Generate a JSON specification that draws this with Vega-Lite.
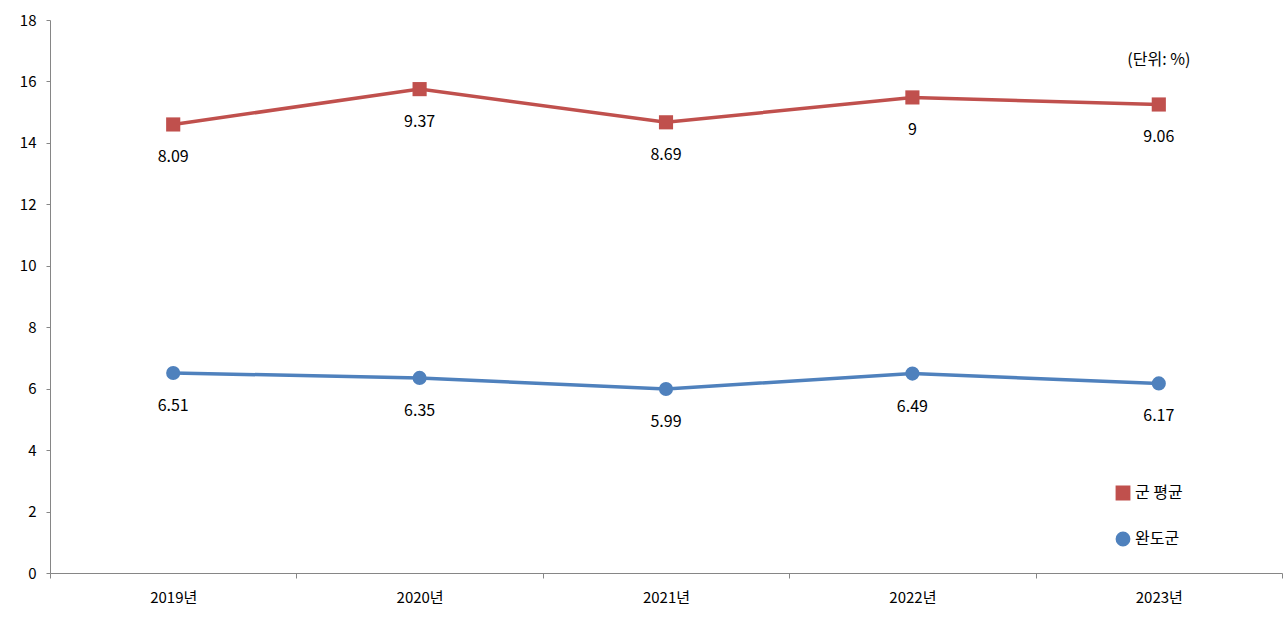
{
  "$schema": "https://vega.github.io/schema/vega-lite/v6.json",
  "width": 1232,
  "height": 553,
  "autosize": {"type": "none"},
  "padding": {"left": 50, "top": 20, "right": 3, "bottom": 45},
  "config": {
    "font": "Noto Sans CJK KR",
    "view": {"stroke": null},
    "axis": {"grid": false, "domainColor": "#868686", "tickColor": "#868686", "labelColor": "#000", "labelFontSize": 15, "title": null}
  },
  "data": {"values": [
    {"year": "2019년", "series": "군 평균", "v": 14.6, "label": "8.09"},
    {"year": "2020년", "series": "군 평균", "v": 15.75, "label": "9.37"},
    {"year": "2021년", "series": "군 평균", "v": 14.67, "label": "8.69"},
    {"year": "2022년", "series": "군 평균", "v": 15.48, "label": "9"},
    {"year": "2023년", "series": "군 평균", "v": 15.25, "label": "9.06"},
    {"year": "2019년", "series": "완도군", "v": 6.51, "label": "6.51"},
    {"year": "2020년", "series": "완도군", "v": 6.35, "label": "6.35"},
    {"year": "2021년", "series": "완도군", "v": 5.99, "label": "5.99"},
    {"year": "2022년", "series": "완도군", "v": 6.49, "label": "6.49"},
    {"year": "2023년", "series": "완도군", "v": 6.17, "label": "6.17"}
  ]},
  "encoding": {
    "x": {"field": "year", "type": "ordinal", "scale": {"paddingInner": 0, "paddingOuter": 0},
      "axis": {"tickBand": "extent", "labelAngle": 0, "labelPadding": 12, "ticks": true, "tickSize": 5}},
    "y": {"field": "v", "type": "quantitative", "scale": {"domain": [0, 18]},
      "axis": {"values": [0, 2, 4, 6, 8, 10, 12, 14, 16, 18], "tickSize": 4, "labelPadding": 10}}
  },
  "layer": [
    {
      "mark": {"type": "line", "strokeWidth": 3.5},
      "encoding": {
        "color": {"field": "series", "type": "nominal", "scale": {"domain": ["군 평균", "완도군"], "range": ["#C0504D", "#4F81BD"]},
          "legend": {"title": null, "orient": "none", "legendX": 1065, "legendY": 465, "labelFontSize": 16, "symbolSize": 140, "symbolStrokeWidth": 3, "rowPadding": 22, "labelColor": "#000", "symbolOpacity": 1}},
        "shape": {"field": "series", "type": "nominal", "scale": {"domain": ["군 평균", "완도군"], "range": ["square", "circle"]}, "legend": null}
      }
    },
    {
      "mark": {"type": "point", "filled": true, "size": 200, "opacity": 1},
      "encoding": {
        "color": {"field": "series", "type": "nominal"},
        "shape": {"field": "series", "type": "nominal"}
      }
    },
    {
      "mark": {"type": "text", "dy": 33, "fontSize": 16, "color": "#000"},
      "encoding": {"text": {"field": "label"}}
    },
    {
      "data": {"values": [{"year": "2023년", "v": 16.7, "t": "(단위: %)"}]},
      "mark": {"type": "text", "fontSize": 16, "color": "#000"},
      "encoding": {"text": {"field": "t"}}
    }
  ]
}
